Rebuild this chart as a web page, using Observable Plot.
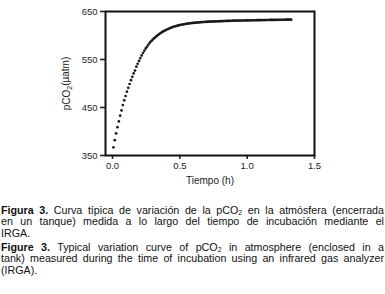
<!DOCTYPE html>
<html>
<head>
<meta charset="utf-8">
<script src="https://cdn.jsdelivr.net/npm/d3@7"></script>
<script src="https://cdn.jsdelivr.net/npm/@observablehq/plot@0.6"></script>
<style>
  body { margin: 0; background: #fff; width: 385px; overflow: hidden; }
  #chart svg { display: block; }
  .cap { font-family: "Liberation Sans", Arial, sans-serif; font-size: 10.7px; color: #111; width: 383px; margin-left: 1px; }
  .cap div { height: 11.4px; line-height: 11.4px; text-align: justify; text-align-last: justify; white-space: nowrap; }
  .cap div.last { text-align-last: left; }
  .cap div.second { margin-top: 2.8px; }
  .cap b { font-weight: bold; }
  .cap sub { font-size: 0.65em; vertical-align: -0.15em; line-height: 0; }
  #caption { margin-top: 15px; }
</style>
</head>
<body>
<div id="chart"></div>
<div id="caption" class="cap">
  <div><b>Figura 3.</b> Curva típica de variación de la pCO<sub>2</sub> en la atmósfera (encerrada</div>
  <div>en un tanque) medida a lo largo del tiempo de incubación mediante el</div>
  <div class="last">IRGA.</div>
  <div class="second"><b>Figure 3.</b> Typical variation curve of pCO<sub>2</sub> in atmosphere (enclosed in a</div>
  <div>tank) measured during the time of incubation using an infrared gas analyzer</div>
  <div class="last">(IRGA).</div>
</div>
<script>
// Incubation time (h) of each IRGA reading
const timeH = [
  0.007,0.017,0.027,0.037,0.047,0.057,0.067,0.077,0.087,0.097,
  0.107,0.117,0.127,0.137,0.147,0.157,0.167,0.177,0.187,0.197,
  0.207,0.217,0.227,0.237,0.247,0.257,0.267,0.277,0.287,0.297,
  0.307,0.317,0.327,0.337,0.347,0.357,0.367,0.377,0.387,0.397,
  0.407,0.417,0.427,0.437,0.447,0.457,0.467,0.477,0.487,0.497,
  0.507,0.517,0.527,0.537,0.547,0.557,0.567,0.577,0.587,0.597,
  0.607,0.617,0.627,0.637,0.647,0.657,0.667,0.677,0.687,0.697,
  0.707,0.717,0.727,0.737,0.747,0.757,0.767,0.777,0.787,0.797,
  0.807,0.817,0.827,0.837,0.847,0.857,0.867,0.877,0.887,0.897,
  0.907,0.917,0.927,0.937,0.947,0.957,0.967,0.977,0.987,0.997,
  1.007,1.017,1.027,1.037,1.047,1.057,1.067,1.077,1.087,1.097,
  1.107,1.117,1.127,1.137,1.147,1.157,1.167,1.177,1.187,1.197,
  1.207,1.217,1.227,1.237,1.247,1.257,1.267,1.277,1.287,1.297,
  1.307,1.317,1.327
];
// pCO2 (µatm) read at each time
const pco2 = [
  367,382,396,409,421,433,444,455,465,474,
  483,491,499,507,514,521,527,535,541,547,
  553,558.5,564,568.5,573,577,581,585,588,591,
  594,596,598.5,601,603,605,607,608.5,610,611.5,
  613,614,615.5,616.5,617.5,618.5,619.3,620,621,621.6,
  622.2,622.8,623.3,623.8,624.3,624.7,625.1,625.5,625.8,626.2,
  626.5,626.8,627,627.3,627.5,627.7,627.9,628.1,628.3,628.5,
  628.7,628.8,629,629.1,629.3,629.4,629.5,629.6,629.7,629.8,
  629.9,630,630.1,630.2,630.3,630.4,630.5,630.6,630.7,630.8,
  630.8,630.9,631,631,631.1,631.2,631.2,631.3,631.4,631.4,
  631.5,631.6,631.7,631.7,631.8,631.8,631.9,631.9,632,632,
  632.1,632.1,632.2,632.2,632.3,632.3,632.4,632.4,632.5,632.5,
  632.5,632.6,632.6,632.7,632.7,632.8,632.8,632.8,632.9,632.9,
  633,633,633
];
const xTicks = [0, 0.5, 1.0, 1.5];
const yTicks = [350, 450, 550, 650];
const xLabel = "Tiempo (h)";
const yLabel = "pCO2(µatm)";

const data = timeH.map((t, i) => ({t, v: pco2[i]}));

const chart = Plot.plot({
  width: 385,
  height: 190,
  marginLeft: 105,
  marginRight: 71,
  marginTop: 11,
  marginBottom: 35,
  style: {fontFamily: "'Liberation Sans', Arial, sans-serif", fontSize: "9.5px", color: "#222", background: "#fff"},
  x: {domain: [-0.052, 1.5]},
  y: {domain: [350, 650]},
  marks: [
    Plot.axisX({ticks: xTicks, tickFormat: d3.format(".1f"), tickSize: 4, tickPadding: 3, strokeWidth: 1.6,
      label: xLabel, labelAnchor: "center", labelArrow: "none", labelOffset: 28, fontSize: 9.5}),
    Plot.axisY({ticks: yTicks, tickFormat: d => d, tickSize: 5, tickPadding: 3, strokeWidth: 1.6,
      label: yLabel, labelAnchor: "center", labelArrow: "none", labelOffset: 43, fontSize: 9.5}),
    Plot.frame({stroke: "#111", strokeWidth: 2}),
    Plot.dot(data, {x: "t", y: "v", r: 1.35, fill: "#1a1a1a", stroke: "none"})
  ]
});
document.getElementById("chart").appendChild(chart);

// subscript the 2 in the y-axis label
d3.select(chart).selectAll("g[aria-label='y-axis label'] text").each(function() {
  const el = d3.select(this);
  el.text(null);
  el.append("tspan").text("pCO");
  el.append("tspan").attr("font-size", "0.7em").attr("dy", "0.3em").text("2");
  el.append("tspan").attr("dy", "-0.3em").text("(µatm)");
});
d3.select(chart).selectAll("g[aria-label='x-axis label'] text, g[aria-label='y-axis label'] text")
  .attr("font-size", "10px");
</script>
</body>
</html>
